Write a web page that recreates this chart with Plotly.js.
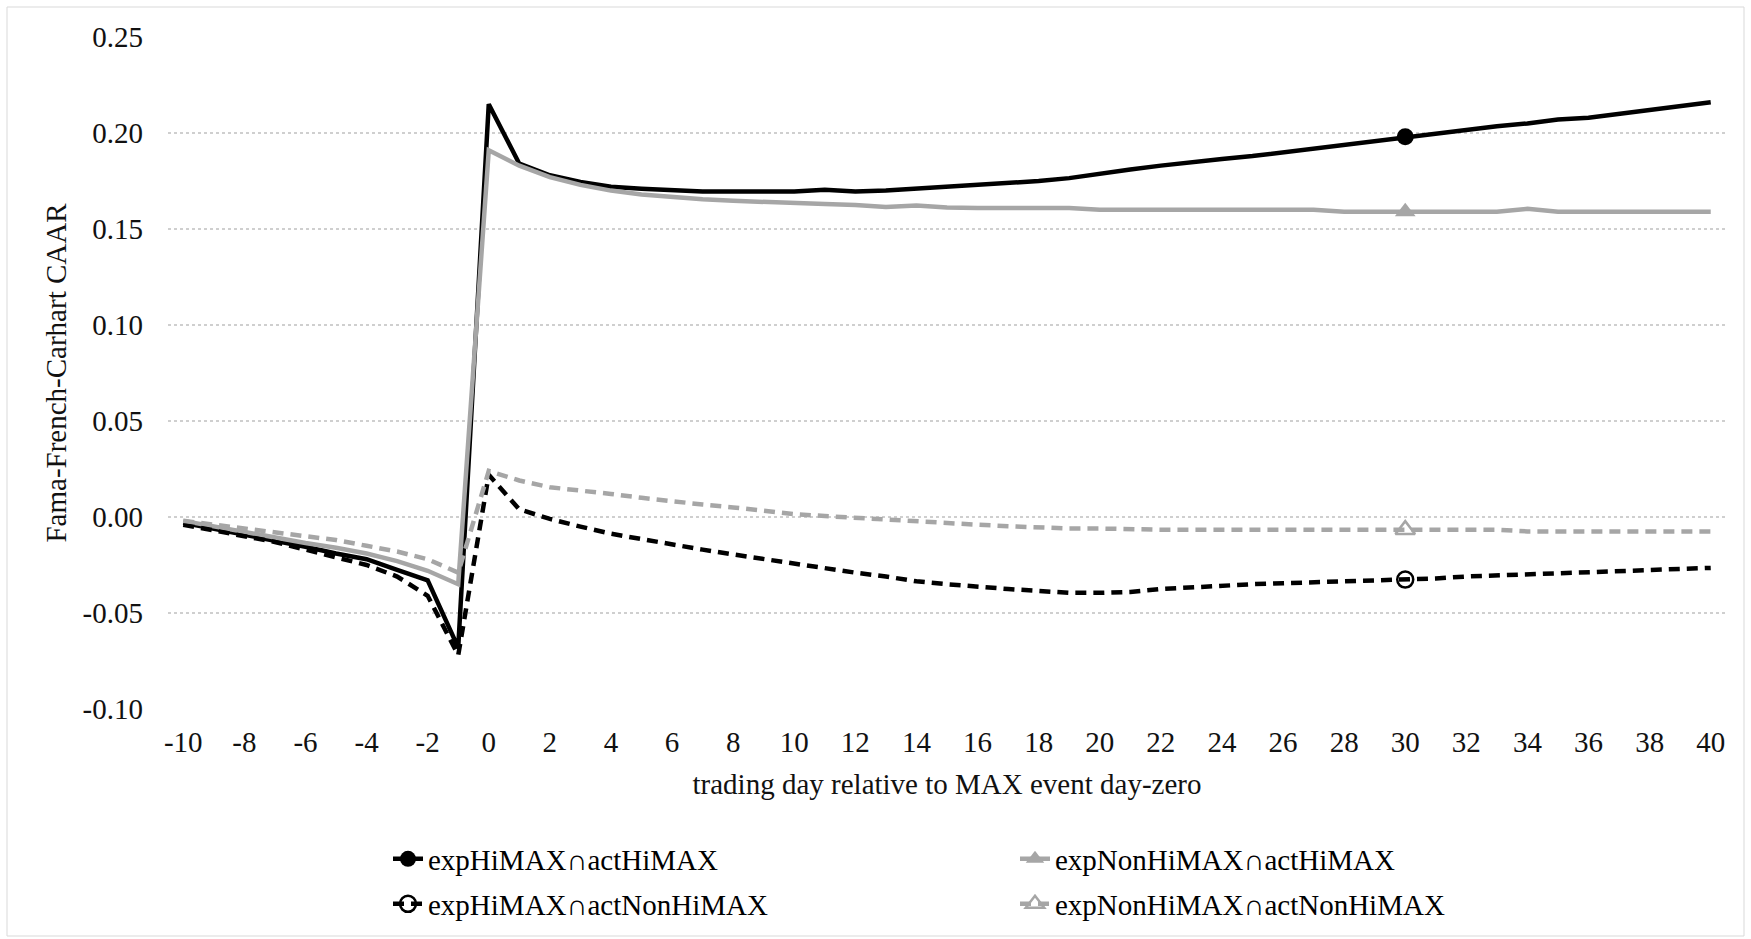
<!DOCTYPE html>
<html>
<head>
<meta charset="utf-8">
<script src="https://cdn.plot.ly/plotly-3.0.1.min.js"></script>
<style>
  html, body { margin: 0; padding: 0; background: #ffffff; }
  #chart { width: 1751px; height: 939px; }
</style>
</head>
<body>
<div id="chart"></div>
<script>
// ---- data ----
const days = [-10,-9,-8,-7,-6,-5,-4,-3,-2,-1,0,1,2,3,4,5,6,7,8,9,10,11,12,13,14,15,16,17,18,19,20,21,22,23,24,25,26,27,28,29,30,31,32,33,34,35,36,37,38,39,40];

const seriesNames = [
  "expHiMAX\u2229actHiMAX",
  "expNonHiMAX\u2229actHiMAX",
  "expHiMAX\u2229actNonHiMAX",
  "expNonHiMAX\u2229actNonHiMAX"
];

const expHi_actHi = [
  -0.003,-0.006,-0.009,-0.012,-0.0155,-0.019,-0.022,-0.0275,-0.033,-0.068,
  0.215,0.184,0.178,0.1745,0.172,0.171,0.170,0.1695,0.1695,0.1695,0.1695,
  0.1705,0.1695,0.170,0.171,0.172,0.173,0.1735,0.175,0.1765,0.179,
  0.181,0.183,0.185,0.1865,0.188,0.190,0.192,0.194,0.196,0.198,
  0.200,0.202,0.2035,0.205,0.207,0.208,0.210,0.212,0.214,0.216
];

const expNonHi_actHi = [
  -0.002,-0.005,-0.008,-0.011,-0.0135,-0.016,-0.019,-0.023,-0.028,-0.035,
  0.191,0.183,0.177,0.173,0.170,0.168,0.1665,0.1655,0.1647,0.164,0.1635,
  0.163,0.1625,0.1615,0.1622,0.1612,0.161,0.161,0.161,0.161,0.160,
  0.160,0.160,0.160,0.160,0.160,0.160,0.160,0.159,0.159,0.159,
  0.159,0.159,0.159,0.1605,0.159,0.159,0.159,0.159,0.159,0.159
];

const expHi_actNonHi = [
  -0.004,-0.007,-0.010,-0.013,-0.017,-0.021,-0.025,-0.031,-0.041,-0.072,
  0.022,0.004,-0.001,-0.005,-0.0087,-0.0115,-0.0145,-0.017,-0.0195,-0.022,-0.024,
  -0.027,-0.029,-0.031,-0.0335,-0.035,-0.0365,-0.0375,-0.0385,-0.0395,-0.0395,
  -0.039,-0.0375,-0.0365,-0.036,-0.035,-0.0345,-0.034,-0.0335,-0.033,-0.0326,
  -0.032,-0.031,-0.0305,-0.030,-0.0295,-0.029,-0.0285,-0.028,-0.027,-0.0265
];

const expNonHi_actNonHi = [
  -0.002,-0.004,-0.006,-0.008,-0.010,-0.012,-0.015,-0.018,-0.022,-0.029,
  0.024,0.019,0.0155,0.014,0.012,0.010,0.008,0.0065,0.005,0.003,0.0015,
  0.0005,-0.0005,-0.0015,-0.002,-0.003,-0.004,-0.0048,-0.0055,-0.006,-0.006,
  -0.0065,-0.0066,-0.0066,-0.0066,-0.0066,-0.0066,-0.0066,-0.0066,-0.0066,-0.0066,
  -0.0066,-0.0066,-0.0066,-0.0075,-0.0075,-0.0075,-0.0075,-0.0075,-0.0075,-0.0075
];

const markerDay = 30;

const xTickVals = [-10,-8,-6,-4,-2,0,2,4,6,8,10,12,14,16,18,20,22,24,26,28,30,32,34,36,38,40];
const xTickText = ["-10","-8","-6","-4","-2","0","2","4","6","8","10","12","14","16","18","20","22","24","26","28","30","32","34","36","38","40"];
const yTickVals = [-0.10,-0.05,0.00,0.05,0.10,0.15,0.20,0.25];
const yTickText = ["-0.10","-0.05","0.00","0.05","0.10","0.15","0.20","0.25"];

const xTitle = "trading day relative to MAX event day-zero";
const yTitle = "Fama-French-Carhart CAAR";

// ---- styles ----
const FONT = "'Liberation Serif', 'Times New Roman', serif";
const FS = 29;
const BLACK = "#000000";
const GRAY = "#a6a6a6";
const allSeries = [expHi_actHi, expNonHi_actHi, expHi_actNonHi, expNonHi_actNonHi];
const styles = [
  {color: BLACK, dash: "solid", width: 4.5, symbol: "circle", msize: 17, mline: 0, mcolor: BLACK},
  {color: GRAY, dash: "solid", width: 4.5, symbol: "triangle-up", msize: 18, mline: 0, mcolor: GRAY},
  {color: BLACK, dash: "11px,7px", width: 4.5, symbol: "circle-open", msize: 16, mline: 2.5, mcolor: BLACK},
  {color: GRAY, dash: "11px,7px", width: 4.5, symbol: "triangle-up-open", msize: 17, mline: 2.5, mcolor: GRAY}
];
const legendIds = ["legend", "legend2", "legend3", "legend4"];

const mi = days.indexOf(markerDay);
const traces = [];
allSeries.forEach((s, i) => {
  const st = styles[i];
  traces.push({
    x: days, y: s, type: "scatter", mode: "lines",
    line: {color: st.color, width: st.width, dash: st.dash},
    showlegend: false, hoverinfo: "x+y"
  });
  traces.push({
    x: [days[mi]], y: [s[mi]], type: "scatter", mode: "lines+markers",
    name: seriesNames[i], legend: legendIds[i],
    line: {color: st.color, width: st.width, dash: st.dash},
    marker: {symbol: st.symbol, size: st.msize, color: st.mcolor,
             line: {color: st.mcolor, width: st.mline}},
    showlegend: true
  });
});

function legendAt(xpx, ypx) {
  return {
    x: xpx / 1751, y: 1 - ypx / 939, xref: "container", yref: "container",
    xanchor: "left", yanchor: "middle", orientation: "h",
    bgcolor: "rgba(0,0,0,0)", borderwidth: 0,
    font: {family: FONT, size: FS, color: "#000000"}
  };
}

const L = 168, R = 1726, T = 37, B = 709;
const px2paperX = (p) => (p - L) / (R - L);
const px2paperY = (p) => (B - p) / (B - T);

const layout = {
  width: 1751, height: 939,
  margin: {l: L, r: 1751 - R, t: T, b: 939 - B},
  paper_bgcolor: "#ffffff", plot_bgcolor: "#ffffff",
  font: {family: FONT, size: FS, color: "#000000"},
  xaxis: {
    range: [-10.5, 40.5], tickvals: xTickVals, ticktext: xTickText,
    showgrid: false, zeroline: false, showline: false, ticks: "",
    ticklabelstandoff: 13,
    tickfont: {family: FONT, size: FS, color: "#111111"},
    title: {text: xTitle, font: {family: FONT, size: FS, color: "#111111"}, standoff: 16}
  },
  yaxis: {
    range: [-0.10, 0.25], tickvals: yTickVals, ticktext: yTickText,
    showgrid: true, gridcolor: "#cfcfcf", gridwidth: 1.3, griddash: "dot",
    zeroline: false, showline: false, ticks: "",
    ticklabelstandoff: 24,
    tickfont: {family: FONT, size: FS, color: "#111111"},
    title: {text: yTitle, font: {family: FONT, size: FS, color: "#111111"}, standoff: 7}
  },
  legend: legendAt(388, 859),
  legend2: legendAt(1015, 859),
  legend3: legendAt(388, 904),
  legend4: legendAt(1015, 904),
  shapes: [{
    type: "rect", xref: "paper", yref: "paper",
    x0: px2paperX(7), x1: px2paperX(1744), y0: px2paperY(936), y1: px2paperY(7),
    line: {color: "#d9d9d9", width: 1}, fillcolor: "rgba(0,0,0,0)", layer: "below"
  }],
  showlegend: true
};

Plotly.newPlot("chart", traces, layout, {displayModeBar: false, staticPlot: true});
</script>
</body>
</html>
